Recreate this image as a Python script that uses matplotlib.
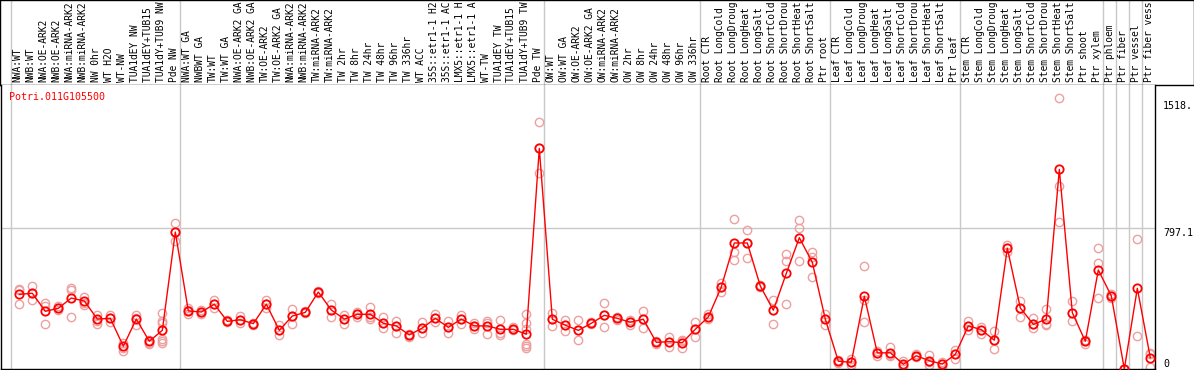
import matplotlib
matplotlib.use("Agg")
import matplotlib.pyplot as plt

W, H = 1194, 370
DPI = 100

gene = "Potri.011G105500"

labels = [
    "NWA:WT", "NWB:WT", "NWA:OE-ARK2", "NWB:OE-ARK2", "NWA:miRNA-ARK2",
    "NWB:miRNA-ARK2", "NW 0hr", "WT H2O", "WT-NW", "TUA1dEY NW",
    "TUA1dEY+TUB15 ", "TUA1dY+TUB9 NW", "Pde NW",
    "NWA:WT GA", "NWBWT GA", "TW:WT", "TW:WT GA", "NWA:OE-ARK2 GA",
    "NWB:OE-ARK2 GA", "TW:OE-ARK2", "TW:OE-ARK2 GA", "NWA:miRNA-ARK2",
    "NWB:miRNA-ARK2", "TW:miRNA-ARK2", "TW:miRNA-ARK2", "TW 2hr", "TW 8hr",
    "TW 24hr", "TW 48hr", "TW 96hr", "TW 336hr", "WT ACC", "35S::etr1-1 H2",
    "35S::etr1-1 AC", "LMX5::etr1-1 H", "LMX5::etr1-1 A", "WT-TW",
    "TUA1dEY TW", "TUA1dEY+TUB15 ", "TUA1dY+TUB9 TW", "Pde TW",
    "OW:WT", "OW:WT GA", "OW:OE-ARK2", "OW:OE-ARK2 GA", "OW:miRNA-ARK2",
    "OW:miRNA-ARK2", "OW 2hr", "OW 8hr", "OW 24hr", "OW 48hr", "OW 96hr",
    "OW 336hr",
    "Root CTR", "Root LongCold", "Root LongDroug", "Root LongHeat",
    "Root LongSalt", "Root ShortCold", "Root ShortDrou", "Root ShortHeat",
    "Root ShortSalt", "Ptr root",
    "Leaf CTR", "Leaf LongCold", "Leaf LongDroug", "Leaf LongHeat",
    "Leaf LongSalt", "Leaf ShortCold", "Leaf ShortDrou", "Leaf ShortHeat",
    "Leaf ShortSalt", "Ptr leaf",
    "Stem CTR", "Stem LongCold", "Stem LongDroug", "Stem LongHeat",
    "Stem LongSalt", "Stem ShortCold", "Stem ShortDrou", "Stem ShortHeat",
    "Stem ShortSalt", "Ptr shoot", "Ptr xylem",
    "Ptr phloem", "Ptr fiber", "Ptr vessel", "Ptr fiber vess",
]

means = [
    423, 429, 327, 344, 402, 385, 283, 287, 129, 283, 157, 219, 776,
    329, 323, 367, 270, 279, 257, 367, 219, 300, 321, 436, 334, 283, 310,
    310, 259, 244, 193, 232, 287, 236, 283, 244, 244, 225, 225, 197, 1250,
    282, 248, 219, 259, 304, 287, 265, 282, 151, 155, 149, 225,
    295, 465, 714, 714, 470, 333, 542, 744, 604, 282,
    44, 38, 412, 91, 92, 27, 75, 47, 28, 83,
    244, 223, 163, 684, 346, 253, 282, 1131, 319, 157, 561,
    414, 0, 457, 64,
]

replicates = [
    [455, 448, 367], [470, 429, 389], [372, 357, 255], [357, 344, 334],
    [459, 448, 295], [408, 376, 363], [304, 270, 255], [304, 287, 265],
    [149, 121, 102], [304, 287, 251], [164, 149, 143],
    [316, 270, 259, 172, 160, 149], [827, 776, 725],
    [334, 310, 343], [334, 323, 310], [393, 367, 347], [270, 275, 265],
    [300, 279, 259], [257, 262, 252], [393, 367, 344], [248, 219, 193],
    [342, 300, 257], [321, 316, 326], [442, 436, 429], [367, 334, 296],
    [304, 283, 255], [310, 296, 323], [351, 297, 283], [295, 259, 232],
    [274, 244, 206], [197, 193, 181], [266, 232, 204], [312, 287, 268],
    [272, 236, 206], [308, 283, 255], [259, 244, 225], [272, 263, 197],
    [278, 204, 193], [236, 225, 219],
    [310, 259, 228, 143, 132, 121], [1398, 1250, 1109],
    [316, 244, 282], [276, 217, 248], [276, 163, 219], [265, 253, 259],
    [372, 236, 304], [296, 278, 287], [276, 251, 265], [329, 231, 286],
    [160, 143, 151], [183, 126, 155], [164, 121, 159], [265, 183, 225],
    [310, 282, 295], [487, 438, 465], [848, 665, 617], [786, 631, 714],
    [476, 465, 470], [389, 253, 333], [650, 614, 367], [842, 797, 612],
    [663, 634, 519], [310, 248, 282],
    [51, 36, 44], [55, 21, 38], [582, 389, 265], [104, 74, 91],
    [125, 78, 75], [45, 17, 19], [83, 68, 75], [78, 40, 23], [41, 13, 28],
    [106, 58, 83],
    [270, 221, 244], [236, 200, 223], [214, 112, 163], [701, 665, 684],
    [385, 293, 346], [287, 234, 253], [338, 251, 257], [1533, 1037, 831],
    [384, 274, 319], [164, 143, 157], [684, 599, 401],
    [425, 401, 414], [0, 0, 0], [735, 187], [92, 13, 87],
]

# column index where a new group starts (gray separators)
group_starts = [0, 13, 41, 53, 63, 73, 84, 85, 86, 87]

y_ticks = [0, 797.1, 1518.3]
y_tick_text = ["0", "797.1", "1518."]
y_top = 1609

plt.rcParams["font.family"] = "DejaVu Sans Mono"
fig = plt.figure(figsize=(W / DPI, H / DPI), dpi=DPI)

n = len(labels)
px_col, px_first = 13.0, 11.0


def px_to_x(px):
    return (px - px_first) / px_col - 0.5


GRAY = "#c8c8c8"
PINK = "#eea0a0"

# header with the sample names
hdr = fig.add_axes([0, (H - 85) / H, 1, 85 / H])
hdr.set_xlim(px_to_x(0), px_to_x(W))
hdr.set_ylim(0, 1)
for s in ("top", "left", "right", "bottom"):
    hdr.spines[s].set_linewidth(1.0)
hdr.set_xticks([])
hdr.set_yticks([])
for b in group_starts:
    hdr.axvline(b - 0.5, color=GRAY, lw=1.0, zorder=0)
for i, lab in enumerate(labels):
    hdr.text(i, 0.03, lab, rotation=90, ha="center", va="bottom",
             fontsize=6.9, color="black")

# main plot
ax = fig.add_axes([1 / W, 1 / H, 1154 / W, 284 / H])
ax.set_xlim(px_to_x(1), px_to_x(1155))
ax.set_ylim(0, y_top)
ax.set_xticks([])
ax.set_yticks([])
ax.spines["top"].set_visible(False)
for s in ("left", "right", "bottom"):
    ax.spines[s].set_linewidth(1.0)

for b in group_starts:
    ax.axvline(b - 0.5, color=GRAY, lw=1.0, zorder=0)
ax.axhline(y_ticks[1], color=GRAY, lw=1.0, zorder=0)

off = 0.14
for i, reps in enumerate(replicates):
    ax.plot([i + off] * len(reps), reps, "o", ms=6, mfc="none",
            mec=PINK, mew=1.0, zorder=2)

xs = [i + off for i in range(n)]
ax.plot(xs, means, "-", color="red", lw=1.0, zorder=3)
ax.plot(xs, means, "o", ms=6, mfc="none", mec="red", mew=1.3, zorder=4)

ax.text(8 / 1154, 1 - 12 / 284, gene, transform=ax.transAxes,
        color="red", fontsize=7.2, ha="left", va="center")

tx = (1163 - 1) / 1154
ax.text(tx, y_ticks[0], y_tick_text[0], transform=ax.get_yaxis_transform(),
        ha="left", va="bottom", fontsize=7.2, clip_on=False)
for v, t in zip(y_ticks[1:], y_tick_text[1:]):
    ax.text(tx, v, t, transform=ax.get_yaxis_transform(),
            ha="left", va="top", fontsize=7.2, clip_on=False)

fig.savefig("out.png", dpi=DPI)
